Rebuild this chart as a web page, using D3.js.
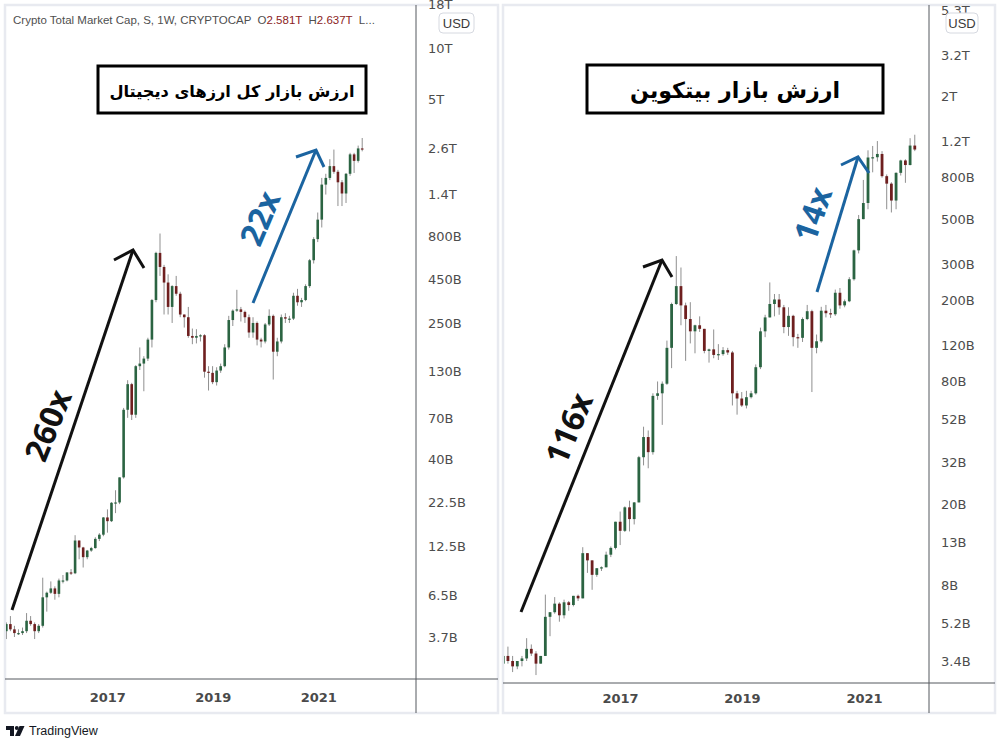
<!DOCTYPE html>
<html><head><meta charset="utf-8">
<script src="https://cdn.jsdelivr.net/npm/d3@7"></script>
<style>
html,body{margin:0;padding:0;background:#fff;}
svg{display:block}
</style></head><body>
<svg id="chart" width="1002" height="744"></svg>
<script>
// ================= DATA (values in billions USD) =================
const firstCandle = "2015-02-02";   // first 4-week candle
const candleDays = 28;

// Crypto Total Market Cap
const totalOpen = [4.0,4.4,4.1,3.9,3.9,4.0,4.6,4.4,4.0,4.3,
6.3,6.7,7.1,6.6,7.9,7.9,8.8,8.7,13.5,12.3,
10.8,11.8,12.2,13.8,14.6,18.4,17.5,22.4,22.5,31.5,
78,110,73,140,145,155,200,340,640,530,
430,310,410,370,280,270,210,205,210,212,
130,128,113,132,140,180,260,295,300,290,
270,220,250,200,195,245,275,170,195,270,
265,265,360,330,340,410,580,770,1000,1600,
1750,2050,1900,1650,1420,1850,2400,2200,2600];
const totalHigh = [4.5,4.9,4.3,4.1,4.2,5.1,4.9,4.5,4.4,8.2,
6.8,7.8,7.3,8.1,8.5,8.8,9.2,14.5,13.5,12.4,
11.9,12.4,14.1,14.9,18.5,20.5,22.6,26.5,31.5,80,
116,112,142,180,160,205,345,650,830,545,
480,415,470,380,280,310,232,230,215,215,
140,140,138,145,188,275,300,390,310,295,
280,270,255,205,250,300,280,205,280,285,
275,375,395,350,420,590,790,1100,1750,1850,
2250,2560,1950,1700,1870,2450,2450,2700,2990];
const totalLow = [3.6,4.0,3.7,3.8,3.8,3.9,4.3,3.6,3.9,4.2,
5.2,6.6,6.1,6.3,7.6,7.8,8.5,8.6,10.5,9.4,
10.5,11.6,12.1,13.4,14.3,15.0,17.3,19.5,22.0,31,
70,68,70,133,100,150,180,330,470,280,
280,250,360,270,235,205,188,190,195,120,
101,110,108,128,138,175,240,290,255,250,
205,205,185,180,190,240,117,160,190,250,
250,260,315,310,335,400,555,740,900,1400,
1700,1850,1200,1200,1250,1800,1870,2150,2500];
const totalClose = [4.4,4.1,3.9,3.9,4.0,4.6,4.4,4.0,4.3,6.3,
6.7,7.1,6.6,7.9,7.9,8.8,8.7,13.5,12.3,10.8,
11.8,12.2,13.8,14.6,18.4,17.5,22.4,22.5,31.5,78,
110,73,140,145,155,200,340,640,530,430,
310,410,370,280,270,210,205,210,212,130,
128,113,132,140,180,260,295,300,290,270,
220,250,200,195,245,275,170,195,270,265,
265,360,330,340,410,580,770,1000,1600,1750,
2050,1900,1650,1420,1850,2400,2200,2600,2580];

// Bitcoin Market Cap
const btcOpen = [3.3,3.6,3.4,3.2,3.4,3.5,3.9,3.7,3.3,3.6,
5.6,5.9,6.5,5.7,6.6,6.4,7.1,6.9,11.5,10.6,
9.0,9.7,9.8,11.3,12.2,16.4,14.8,19.3,16.9,20.4,
34,42.7,36,68,70,78,117,192,235,189,
162,141,151,145,113,115,108,109,114,111,
70,66,61,67,70,94,141,165,192,202,
185,148,168,132,131,162,177,117,126,178,
173,171,218,189,198,254,352,501,601,1005,
1008,1046,814,748,618,845,972,923,1150];
const btcHigh = [3.7,4.0,3.6,3.4,3.6,4.4,4.1,3.8,3.6,7.2,
5.9,7.0,6.6,6.8,6.7,7.1,7.2,12.3,11.5,10.6,
9.7,9.9,11.7,12.4,16.4,18.4,19.5,20.8,20.5,34.5,
48,46,70,80,80,127,195,330,290,195,
196,152,167,145,116,144,122,118,117,113,
72,71,72,72,97,147,170,245,215,215,
190,185,170,137,165,190,180,136,186,190,
182,226,230,202,260,355,525,780,1090,1145,
1210,1080,830,760,850,980,985,1250,1300];
const btcLow = [2.9,3.3,3.0,3.1,3.2,3.4,3.6,2.9,3.3,3.6,
4.5,5.8,5.3,5.5,6.0,6.3,6.7,6.9,9.2,7.6,
8.8,9.4,9.8,11.0,12.0,12.6,14.6,14.7,15.9,20.4,
31,30,35,65,49,77,93,190,151,101,
123,110,140,110,99,104,102,107,108,61,
55,60,59,66,69,92,132,165,167,170,
138,134,119,117,125,160,71,110,124,165,
164,168,182,185,196,250,340,500,560,850,
960,800,560,540,560,820,755,920,1080];
const btcClose = [3.6,3.4,3.2,3.4,3.5,3.9,3.7,3.3,3.6,5.6,
5.9,6.5,5.7,6.6,6.4,7.1,6.9,11.5,10.6,9.0,
9.7,9.8,11.3,12.2,16.4,14.8,19.3,16.9,20.4,34,
42.7,36,68,70,78,117,192,235,189,162,
141,151,145,113,115,108,109,114,111,70,
66,61,67,70,94,141,165,192,202,185,
148,168,132,131,162,177,117,126,178,173,
171,218,189,198,254,352,501,601,1005,1008,
1046,814,748,618,845,972,923,1150,1100];

// Axis ticks
const totalTickValues = [18000,10000,5000,2600,1400,800,450,250,130,70,40,22.5,12.5,6.5,3.7];
const totalTickLabels = ["18T","10T","5T","2.6T","1.4T","800B","450B","250B","130B","70B","40B","22.5B","12.5B","6.5B","3.7B"];
const btcTickValues = [5300,3200,2000,1200,800,500,300,200,120,80,52,32,20,13,8,5.2,3.4];
const btcTickLabels = ["5.3T","3.2T","2T","1.2T","800B","500B","300B","200B","120B","80B","52B","32B","20B","13B","8B","5.2B","3.4B"];
const yearTicks = ["2017-01-01","2019-01-01","2021-01-01"];

// Texts
const headerName = "Crypto Total Market Cap, S, 1W, CRYPTOCAP";
const headerOpen = "2.581T", headerHigh = "2.637T";
const totalTitle = "ارزش بازار کل ارزهای دیجیتال";
const btcTitle = "ارزش بازار بیتکوین";
const totalMultiples = ["260x","22x"];
const btcMultiples = ["116x","14x"];

// ================= LAYOUT =================
const svg = d3.select("#chart");
const parse = d3.utcParse("%Y-%m-%d");
const candleDates = totalClose.map((_, i) => d3.utcDay.offset(parse(firstCandle), i * candleDays));

const BLACK = "#111", BLUE = "#1b64a0";
const panels = [
  { id:"total", frame:{x:5,y:5,w:493,h:708}, plotRight:416, axisY:679,
    xRange:[107.3,318.3], yDomain:[3.7,10000], yRange:[637,48], bodyW:2.6,
    open:totalOpen, high:totalHigh, low:totalLow, close:totalClose,
    tickValues:totalTickValues, tickLabels:totalTickLabels, yearPad:13.5,
    usd:{x:439,y:13,w:35,h:20},
    title:totalTitle, box:{x:98,y:66,w:268,h:47}, titleW:245, titleCy:91,
    arrows:[
      {from:[12,610], to:[133,250], a1:[114,260], a2:[144,268], color:BLACK, text:totalMultiples[0], tc:[47,425], rot:-68},
      {from:[253,303], to:[316,150], a1:[296,157], a2:[324,167], color:BLUE, text:totalMultiples[1], tc:[259,218], rot:-67}
    ]},
  { id:"btc", frame:{x:503,y:5,w:492,h:708}, plotRight:929, axisY:683,
    xRange:[620,864], yDomain:[3.4,3200], yRange:[661,55], bodyW:2.8,
    open:btcOpen, high:btcHigh, low:btcLow, close:btcClose,
    tickValues:btcTickValues, tickLabels:btcTickLabels, yearPad:10.8,
    usd:{x:946,y:13,w:32,h:20},
    title:btcTitle, box:{x:587,y:65,w:296,h:48}, titleW:210, titleCy:90,
    arrows:[
      {from:[521,612], to:[662,260], a1:[643,267], a2:[672,277], color:BLACK, text:btcMultiples[0], tc:[568,428], rot:-67},
      {from:[817,292], to:[858,157], a1:[841,165], a2:[869,173], color:BLUE, text:btcMultiples[1], tc:[812,214], rot:-71}
    ]}
];

panels.forEach(p => {
  const g = svg.append("g");
  const f = p.frame;
  g.append("rect").attr("x",f.x).attr("y",f.y).attr("width",f.w).attr("height",f.h)
    .attr("fill","#fff").attr("stroke","#e8eaf0").attr("stroke-width",2.5);

  const x = d3.scaleUtc().domain([parse(yearTicks[0]), parse(yearTicks[2])]).range(p.xRange);
  const y = d3.scaleLog().domain(p.yDomain).range(p.yRange);

  const clipId = "clip-" + p.id;
  svg.append("clipPath").attr("id", clipId).append("rect")
    .attr("x", f.x+1).attr("y", f.y+1).attr("width", p.plotRight - f.x - 1).attr("height", p.axisY - f.y - 1);

  const rows = candleDates.map((d,i) => ({d, o:p.open[i], h:p.high[i], l:p.low[i], c:p.close[i]}));
  const cg = g.append("g").attr("clip-path", `url(#${clipId})`);
  cg.selectAll("line.wick").data(rows).join("line").attr("class","wick")
    .attr("x1", r => x(r.d)).attr("x2", r => x(r.d))
    .attr("y1", r => y(r.h)).attr("y2", r => y(r.l))
    .attr("stroke", "#8f8f8f").attr("stroke-width", 1);
  cg.selectAll("rect.body").data(rows).join("rect").attr("class","body")
    .attr("x", r => x(r.d) - p.bodyW/2).attr("width", p.bodyW)
    .attr("y", r => y(Math.max(r.o, r.c)))
    .attr("height", r => Math.max(1.2, Math.abs(y(r.o) - y(r.c))))
    .attr("fill", r => r.c >= r.o ? "#2b6442" : "#6e1f1f");

  // axis lines
  g.append("line").attr("x1",p.plotRight).attr("x2",p.plotRight).attr("y1",f.y).attr("y2",f.y+f.h)
    .attr("stroke","#55585f").attr("stroke-width",1);
  g.append("line").attr("x1",f.x).attr("x2",f.x+f.w).attr("y1",p.axisY).attr("y2",p.axisY)
    .attr("stroke","#55585f").attr("stroke-width",1);

  // price axis
  const ya = g.append("g").attr("transform",`translate(${p.plotRight},0)`)
    .call(d3.axisRight(y).tickValues(p.tickValues).tickFormat((d,i)=>p.tickLabels[i]).tickSize(0).tickPadding(12));
  ya.select(".domain").remove();
  ya.selectAll("text").attr("fill","#4d4d4d").style("font-family","DejaVu Sans").style("font-size","13px");

  // time axis
  const xa = g.append("g").attr("transform",`translate(0,${p.axisY})`)
    .call(d3.axisBottom(x).tickValues(yearTicks.map(parse)).tickFormat(d3.utcFormat("%Y")).tickSize(0).tickPadding(p.yearPad));
  xa.select(".domain").remove();
  xa.selectAll("text").attr("fill","#4a4a4a").style("font-family","DejaVu Sans").style("font-weight","bold").style("font-size","13px");

  // USD badge
  const u = p.usd;
  g.append("rect").attr("x",u.x).attr("y",u.y).attr("width",u.w).attr("height",u.h).attr("rx",4)
    .attr("fill","#fff").attr("stroke","#d6d9e0");
  g.append("text").attr("x",u.x+u.w/2).attr("y",u.y+u.h/2).attr("text-anchor","middle").attr("dominant-baseline","central")
    .attr("fill","#3a3a3a").style("font-family","Liberation Sans").style("font-size","13px").text("USD");

  // title box
  const b = p.box;
  g.append("rect").attr("x",b.x).attr("y",b.y).attr("width",b.w).attr("height",b.h)
    .attr("fill","#fff").attr("stroke","#000").attr("stroke-width",3);
  const tt = g.append("text").attr("x",b.x+b.w/2).attr("y",p.titleCy).attr("text-anchor","middle")
    .attr("dominant-baseline","central").attr("direction","rtl")
    .attr("fill","#000").style("font-family","DejaVu Sans").style("font-weight","bold").style("font-size","22px")
    .text(p.title);
  const len = tt.node().getComputedTextLength();
  if (len > 0) tt.style("font-size", (22 * p.titleW / len).toFixed(2) + "px");

  // arrows & multiples
  p.arrows.forEach(a => {
    g.append("line").attr("x1",a.from[0]).attr("y1",a.from[1]).attr("x2",a.to[0]).attr("y2",a.to[1])
      .attr("stroke",a.color).attr("stroke-width",3).attr("stroke-linecap","butt");
    g.append("polyline").attr("points",[a.a1,a.to,a.a2].map(q=>q.join(",")).join(" "))
      .attr("fill","none").attr("stroke",a.color).attr("stroke-width",3).attr("stroke-linejoin","miter");
    g.append("text").attr("transform",`translate(${a.tc[0]},${a.tc[1]}) rotate(${a.rot})`)
      .attr("text-anchor","middle").attr("dominant-baseline","central")
      .attr("fill",a.color).style("font-family","Open Sans").style("font-weight","bold").style("font-size","32px")
      .text(a.text);
  });
});

// header legend (left panel)
const hdr = svg.append("text").attr("x",13).attr("y",20).attr("dominant-baseline","central")
  .style("font-family","Liberation Sans").style("font-size","11.5px").style("white-space","pre").attr("fill","#4f4f4f");
hdr.append("tspan").text(headerName);
hdr.append("tspan").text("  O");
hdr.append("tspan").attr("fill","#8b2323").text(headerOpen);
hdr.append("tspan").text("  H");
hdr.append("tspan").attr("fill","#8b2323").text(headerHigh);
hdr.append("tspan").text("  L...");

// TradingView footer
const logo = svg.append("g").attr("fill","#131722");
logo.append("path").attr("d","M6,726 h8 v10 h-4 v-6 h-4 z");
logo.append("circle").attr("cx",16.8).attr("cy",728).attr("r",2);
logo.append("path").attr("d","M19.5,726 h5 l-4.5,10 h-5 z");
svg.append("text").attr("x",29).attr("y",731).attr("dominant-baseline","central")
  .style("font-family","Liberation Sans").style("font-size","12.5px").attr("fill","#131722").text("TradingView");
</script>
</body></html>
